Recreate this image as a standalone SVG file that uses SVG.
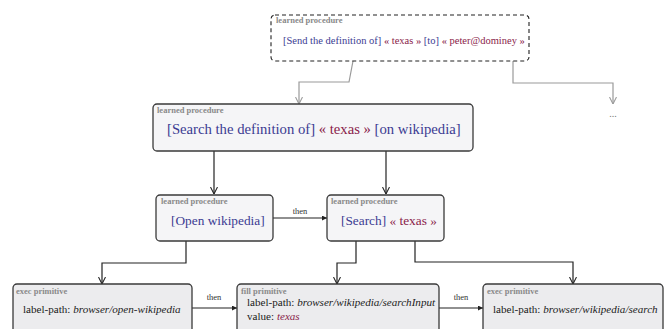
<svg xmlns="http://www.w3.org/2000/svg" width="667" height="329" viewBox="0 0 667 329">
<style>
text{font-family:"Liberation Serif","Times New Roman",serif;}
.main{font-size:13.33px;fill:#222;}
.small{font-size:11.1px;fill:#222;}
.b{fill:#3b3b92;}
.m{fill:#8a1c4a;}
.lbl{font-size:8.5px;font-weight:bold;fill:#8a8a8a;}
.then{font-size:8.5px;fill:#333;}
.box{fill:#f5f5f7;stroke:#3a3a3a;stroke-width:1.3;}
.pbox{fill:#ececee;stroke:#3a3a3a;stroke-width:1.3;}
.dbox{fill:#fff;stroke:#222;stroke-width:1.1;stroke-dasharray:4,3;}
.gc{fill:none;stroke:#9a9a9a;stroke-width:1.2;}
.kc{fill:none;stroke:#222;stroke-width:1.2;}
</style>
<defs>
<marker id="og" viewBox="0 0 10 10" refX="10" refY="5" markerUnits="userSpaceOnUse" markerWidth="7" markerHeight="8" orient="auto"><path d="M0,0 L10,5 L0,10" fill="none" stroke="#9a9a9a" stroke-width="1.5"/></marker>
<marker id="ok" viewBox="0 0 10 10" refX="10" refY="5" markerUnits="userSpaceOnUse" markerWidth="7" markerHeight="8" orient="auto"><path d="M0,0 L10,5 L0,10" fill="none" stroke="#222" stroke-width="1.5"/></marker>
<marker id="fk" viewBox="0 0 10 10" refX="10" refY="5" markerUnits="userSpaceOnUse" markerWidth="6" markerHeight="5" orient="auto"><path d="M0,0 L10,5 L0,10 z" fill="#222"/></marker>
</defs>
<g id="connectors">
<path class="gc" d="M353,61 L349,82 L299,82 L299,104" marker-end="url(#og)"/>
<path class="gc" d="M513,61 L513,83 L613,83 L613,104" marker-end="url(#og)"/>
<text x="613" y="117" text-anchor="middle" style="font-size:10px;fill:#777">...</text>
<path class="kc" d="M214,151 L214,194" marker-end="url(#ok)"/>
<path class="kc" d="M386,151 L386,194" marker-end="url(#ok)"/>
<path class="kc" d="M186,241 L186,263 L102,263 L102,284" marker-end="url(#ok)"/>
<path class="kc" d="M356,241 L356,263 L337,263 L337,284" marker-end="url(#ok)"/>
<path class="kc" d="M415,241 L415,262 L573,262 L573,284" marker-end="url(#ok)"/>
<path class="kc" d="M273,218 L327,218" marker-end="url(#fk)"/>
<text class="then" x="300" y="214" text-anchor="middle">then</text>
<path class="kc" d="M192,308 L237,308" marker-end="url(#fk)"/>
<text class="then" x="214" y="300" text-anchor="middle">then</text>
<path class="kc" d="M439,308 L483,308" marker-end="url(#fk)"/>
<text class="then" x="461" y="300" text-anchor="middle">then</text>
</g>
<g id="send">
<rect class="dbox" x="271" y="15" width="258" height="46" rx="4"/>
<text class="lbl" x="276" y="23">learned procedure</text>
<text x="283" y="44" style="font-size:10.5px"><tspan class="b">[Send the definition of]</tspan> <tspan class="m">« texas »</tspan> <tspan class="b">[to]</tspan> <tspan class="m">« peter@dominey »</tspan></text>
</g>
<g id="search-def">
<rect class="box" x="153" y="104" width="320" height="47" rx="4"/>
<text class="lbl" x="157" y="113">learned procedure</text>
<text x="167" y="134" style="font-size:14.7px"><tspan class="b">[Search the definition of]</tspan> <tspan class="m">« texas »</tspan> <tspan class="b">[on wikipedia]</tspan></text>
</g>
<g id="open-wiki">
<rect class="box" x="156" y="195" width="117" height="46" rx="4"/>
<text class="lbl" x="161" y="204">learned procedure</text>
<text class="main b" x="171" y="225">[Open wikipedia]</text>
</g>
<g id="search">
<rect class="box" x="327" y="195" width="117" height="46" rx="4"/>
<text class="lbl" x="331" y="204">learned procedure</text>
<text class="main" x="341" y="225"><tspan class="b">[Search]</tspan> <tspan class="m">« texas »</tspan></text>
</g>
<g id="exec-open">
<rect class="pbox" x="13" y="284" width="179" height="60" rx="4"/>
<text class="lbl" x="16" y="294">exec primitive</text>
<text class="small" x="23" y="313">label-path: <tspan font-style="italic">browser/open-wikipedia</tspan></text>
</g>
<g id="fill-input">
<rect class="pbox" x="237" y="284" width="202" height="60" rx="4"/>
<text class="lbl" x="241" y="294">fill primitive</text>
<text class="small" x="247" y="306">label-path: <tspan font-style="italic">browser/wikipedia/searchInput</tspan></text>
<text class="small" x="247" y="320">value: <tspan font-style="italic" class="m">texas</tspan></text>
</g>
<g id="exec-search">
<rect class="pbox" x="483" y="284" width="180" height="60" rx="4"/>
<text class="lbl" x="487" y="294">exec primitive</text>
<text class="small" x="493" y="313">label-path: <tspan font-style="italic">browser/wikipedia/search</tspan></text>
</g>
</svg>
